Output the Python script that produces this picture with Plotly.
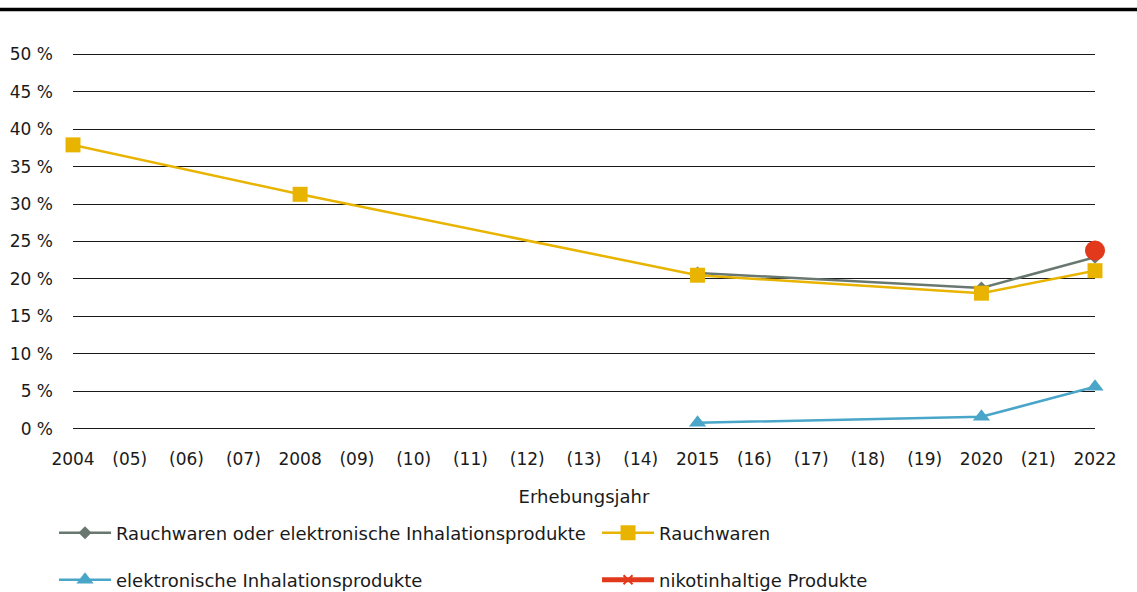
import plotly.graph_objects as go

categories = ["2004", "(05)", "(06)", "(07)", "2008", "(09)", "(10)", "(11)", "(12)", "(13)",
              "(14)", "2015", "(16)", "(17)", "(18)", "(19)", "2020", "(21)", "2022"]

def series(pairs):
    vals = [None] * len(categories)
    for k, v in pairs.items():
        vals[categories.index(k)] = v
    return vals

rauch_oder_e = series({"2015": 20.8, "2020": 18.8, "2022": 22.9})
rauchwaren = series({"2004": 37.9, "2008": 31.3, "2015": 20.5, "2020": 18.1, "2022": 21.1})
e_inhal = series({"2015": 0.8, "2020": 1.6, "2022": 5.6})
nikotin = series({"2022": 23.8})

y_ticks = [0, 5, 10, 15, 20, 25, 30, 35, 40, 45, 50]
y_ticktext = [f"{v} %" for v in y_ticks]

FONT = "DejaVu Sans"
TXT = "#1a1a1a"
FS_LEG = 18
FS_TICK = 17

fig = go.Figure()
fig.add_trace(go.Scatter(x=categories, y=rauch_oder_e, mode="lines+markers",
                         name="Rauchwaren oder elektronische Inhalationsprodukte",
                         line=dict(color="#687870", width=2.5),
                         marker=dict(symbol="diamond", size=10, color="#687870"),
                         connectgaps=True, cliponaxis=False, legend="legend"))
fig.add_trace(go.Scatter(x=categories, y=rauchwaren, mode="lines+markers",
                         name="Rauchwaren",
                         line=dict(color="#e8b400", width=2.5),
                         marker=dict(symbol="square", size=15, color="#e8b400"),
                         connectgaps=True, cliponaxis=False, legend="legend2"))
fig.add_trace(go.Scatter(x=categories, y=e_inhal, mode="lines+markers",
                         name="elektronische Inhalationsprodukte",
                         line=dict(color="#4aa6c8", width=2.5),
                         marker=dict(symbol="triangle-up", size=15, color="#4aa6c8"),
                         connectgaps=True, cliponaxis=False, legend="legend3"))
fig.add_trace(go.Scatter(x=categories, y=nikotin, mode="markers",
                         name="nikotinhaltige Produkte", showlegend=False,
                         marker=dict(symbol="circle", size=20, color="#e2381b"),
                         cliponaxis=False))
fig.add_trace(go.Scatter(x=[None], y=[None], mode="lines+markers",
                         name="nikotinhaltige Produkte",
                         line=dict(color="#e2381b", width=5),
                         marker=dict(symbol="x-thin", size=9, color="#e2381b",
                                     line=dict(color="#e2381b", width=2)),
                         legend="legend4"))

def leg(x, y):
    return dict(orientation="h", xref="container", yref="container",
                x=x, xanchor="left", y=y, yanchor="middle",
                font=dict(size=FS_LEG, color=TXT, family=FONT), itemwidth=52,
                bgcolor="rgba(0,0,0,0)")

ROW1 = 1 - 533 / 592
ROW2 = 1 - 580 / 592

fig.update_layout(
    width=1137, height=592,
    paper_bgcolor="white", plot_bgcolor="white",
    margin=dict(l=73, r=42, t=52, b=161, autoexpand=False),
    font=dict(family=FONT, size=FS_TICK, color=TXT),
    showlegend=True,
    legend=leg(0.0475, ROW1),
    legend2=leg(0.5251, ROW1),
    legend3=leg(0.0475, ROW2),
    legend4=leg(0.5251, ROW2),
    shapes=[dict(type="line", xref="paper", yref="paper", x0=-0.1, x1=1.1,
                 y0=1.1121, y1=1.1121, line=dict(color="black", width=3.5))],
)
fig.update_xaxes(type="category", categoryorder="array", categoryarray=categories,
                 range=[0, len(categories) - 1], showgrid=False, zeroline=False,
                 showline=False, ticks="", ticklabelstandoff=16, automargin=False,
                 tickfont=dict(size=FS_TICK, color=TXT, family=FONT),
                 title=dict(text="Erhebungsjahr", font=dict(size=FS_LEG, color=TXT, family=FONT),
                            standoff=22))
fig.update_yaxes(range=[-0.3, 50.3], tickvals=y_ticks, ticktext=y_ticktext,
                 showgrid=True, gridcolor="#1a1a1a", gridwidth=1, zeroline=False,
                 showline=False, ticks="", ticklabelstandoff=19, automargin=False,
                 tickfont=dict(size=FS_TICK, color=TXT, family=FONT))

fig.write_html("out.html", config={"displayModeBar": False},
               post_script="document.body.style.margin='0';document.body.style.padding='0';")
